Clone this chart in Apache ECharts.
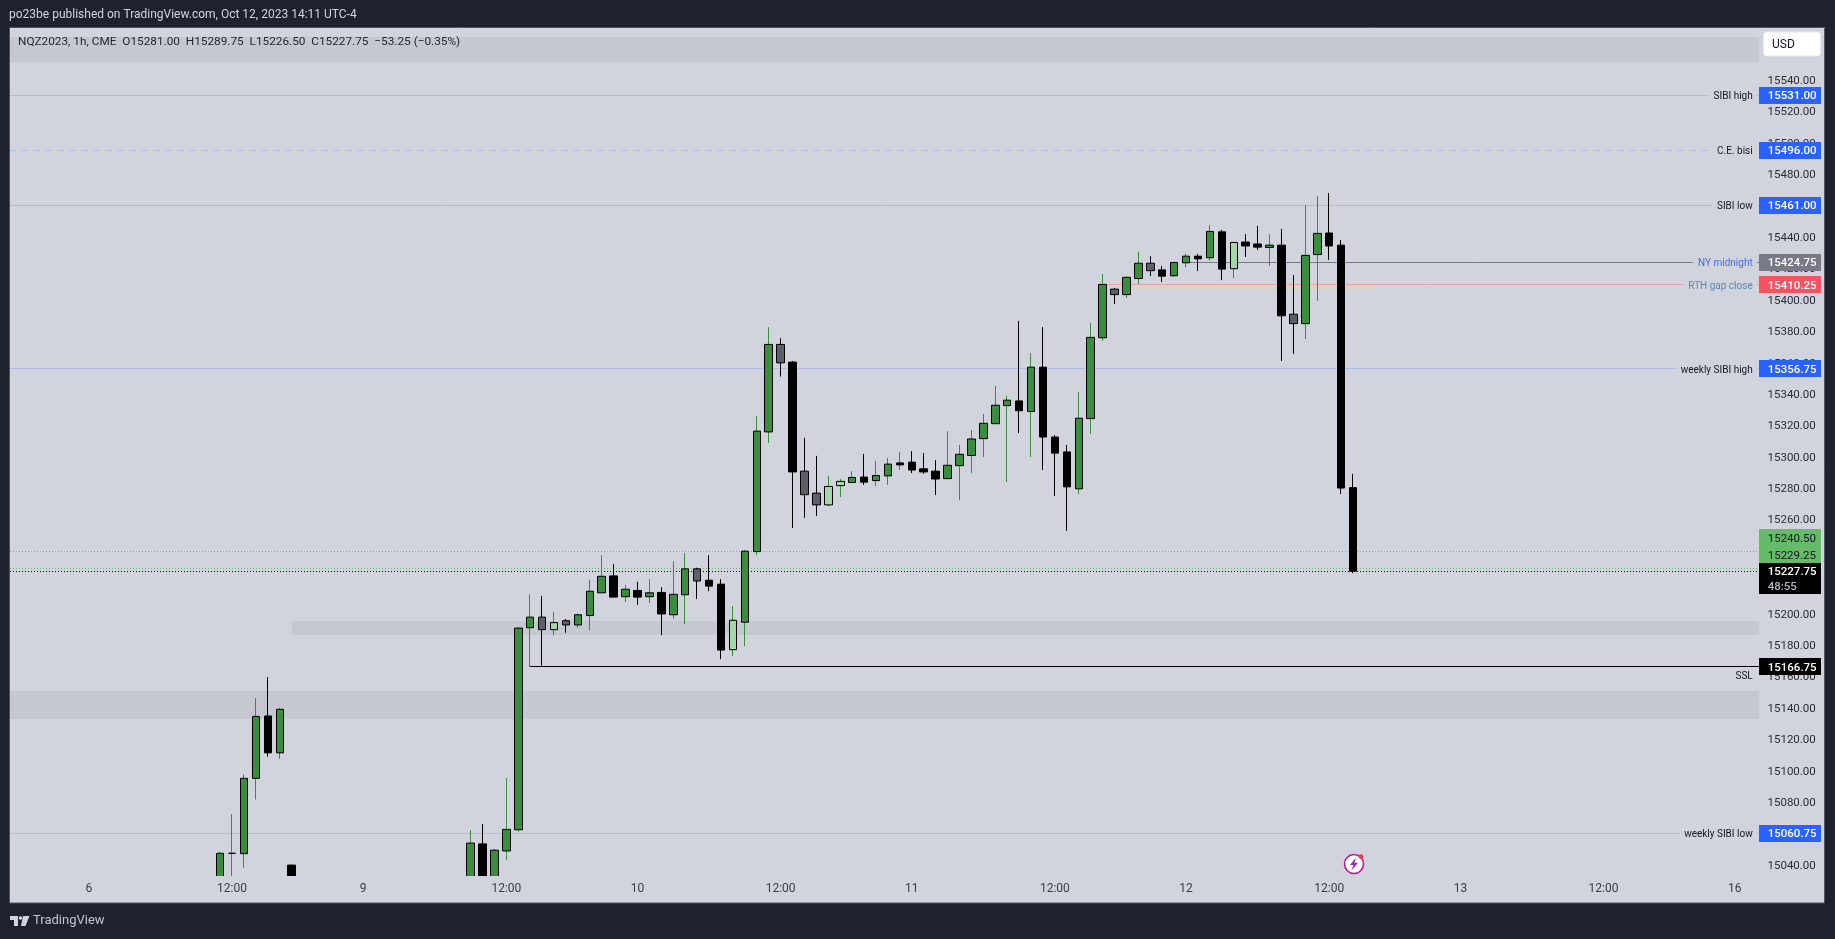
<!DOCTYPE html>
<html>
<head>
<meta charset="utf-8">
<style>html,body{margin:0;padding:0;background:#1e222d}#c{width:1835px;height:939px}</style>
<script src="https://cdn.jsdelivr.net/npm/echarts@6/dist/echarts.min.js"></script>
</head>
<body>
<div id="c"></div>
<script>
const barIndex = [11,12,13,14,15,16,17,32,33,34,35,36,37,38,39,40,41,42,43,44,45,46,47,48,49,50,51,52,53,54,55,56,57,58,59,60,61,62,63,64,65,66,67,68,69,70,71,72,73,74,75,76,77,78,79,80,81,82,83,84,85,86,87,88,89,90,91,92,93,94,95,96,97,98,99,100,101,102,103,104,105,106];
const opens = [15025,15048,15047.75,15095.75,15135.5,15112,15040.5,15025,15054,15025,15049.5,15063,15191.75,15198.5,15190.5,15196.25,15193.5,15199.5,15214,15224.75,15211.5,15215.5,15211.5,15214.25,15200,15212.75,15229.25,15222,15219.5,15177.75,15195.25,15240.25,15316.5,15372.25,15361,15291.5,15277.5,15270,15282.25,15284.25,15287.75,15285.5,15288.5,15296.75,15297.25,15293,15291.5,15286.75,15295,15301.5,15312.25,15321.75,15333.25,15336.25,15329.5,15357.75,15313.25,15303.75,15280.25,15325,15376.5,15407.5,15404,15414.25,15424,15419.75,15416,15424.25,15428.5,15427.5,15444,15420.5,15437.5,15436.25,15434,15435.5,15391.5,15385.5,15429.5,15443.25,15435.5,15281];
const closes = [15048,15048,15095.75,15135.25,15112,15139.75,15025,15054.5,15025,15050,15063.25,15191.5,15198.5,15190.5,15195,15193.5,15200,15215,15224.5,15211.25,15216.25,15211.25,15214,15200.5,15213,15229.25,15221.5,15218.25,15177.5,15196.5,15240.5,15317,15372.25,15360.5,15291,15276.5,15270,15281.75,15285,15287.5,15284.5,15288.75,15296,15295.5,15292.25,15291,15286.5,15295.25,15302.25,15312,15322,15333.5,15336.75,15330,15357.75,15313.25,15303,15281.5,15325.25,15376.75,15410.5,15404,15415,15424,15419.25,15415.75,15424.5,15428.5,15426.75,15444.25,15420.25,15437.25,15435,15434.25,15435.5,15390.5,15385.5,15429,15443,15435,15280.75,15227.75];
const lows = [15025,15025,15038.75,15082.25,15109.5,15108.25,15025,15025,15025,15025,15043.75,15061.75,15166.75,15167.5,15187,15188.5,15191.5,15190,15214,15211.25,15208,15206.25,15207.5,15187,15197.5,15194,15210,15215,15171.75,15173.75,15180,15238,15309.5,15351.75,15255.25,15261.75,15263,15269.25,15275,15284.25,15282.75,15282,15282.75,15292.25,15290.25,15289.75,15276.25,15286.75,15273,15290.25,15300.5,15321.75,15284.5,15315.75,15300.5,15292.25,15275.75,15253.5,15277,15315.25,15374.5,15398,15401.75,15410.75,15415.75,15412,15415.25,15421.5,15419,15425.5,15413.25,15414.5,15428,15432.5,15422.25,15361.75,15366.25,15375.75,15400,15426,15277,15226.5];
const highs = [15049,15073,15098.25,15147,15160.25,15140.75,15040.5,15062.75,15066.75,15050.75,15096,15192.25,15213,15212,15201.75,15197.25,15200.75,15222.25,15238,15232.25,15219,15221,15222.75,15217.5,15234.25,15239.25,15230,15238,15222.75,15205.5,15241.25,15326.75,15383.25,15376.25,15361.75,15312.75,15301.25,15288.5,15286.5,15291.5,15302.5,15298,15300,15303.75,15304.25,15303,15298.5,15317,15308.25,15317.75,15328,15345.75,15339.5,15387.25,15366.75,15383.25,15314.5,15308.25,15342,15386,15417,15408.25,15415.75,15431.25,15428.5,15422.25,15424.5,15430,15430,15448.25,15445.25,15437.25,15442.5,15447.75,15442.5,15445.75,15416.5,15461,15466.75,15468.75,15438.75,15289.75];
const barKinds = ("gkggkgk"+"gkggggslsg"+"ggkgkgkggs"+"kklgggskss"+"llgkggkkkk"+"ggggggkgkk"+"kgggsggskg"+"gkgklkkgks"+"ggkkk").split("");
const wickGreenBars = [12,68];

const yTicks = [15040,15060,15080,15100,15120,15140,15160,15180,15200,15220,15240,15260,15280,15300,15320,15340,15360,15380,15400,15420,15440,15460,15480,15500,15520,15540];
const xTickIndex = [0,12,23,35,46,58,69,81,92,104,115,127,138];
const xTickLabels = ["6","12:00","9","12:00","10","12:00","11","12:00","12","12:00","13","12:00","16"];

const levelPrices = [15531,15496,15461,15424.75,15410.25,15356.75,15166.75,15060.75];
const levelNames = ["SIBI high","C.E. bisi","SIBI low","NY midnight","RTH gap close","weekly SIBI high","SSL","weekly SIBI low"];
const levelStart = [null,null,null,92,85,null,37,null];
const levelKinds = ["blue","dash","blue","grey","red","blue","ssl","blue"];

const zoneLows = [15552.5,15187,15133.5,15407.5];
const zoneHighs = [15568,15196,15151.5,15409.5];
const zoneStart = [null,17,null,86];
const zoneEnd = [null,null,null,108];
const zoneKinds = ["band","band","band","sand"];

const dottedPrices = [15240.5,15229.25,15227.75];
const dottedKinds = ["green","green","black"];
const lastLabels = ["15240.50","15229.25","15227.75","48:55"];

const FONT = 'Roboto, "Open Sans", sans-serif';
const PANE = '#d1d4dc';
const kindFill = {g:'#388e3c',k:'#000000',s:'#5d606b',l:'#a5d6a7'};
const levelStyle = {
  blue:{line:'#b1bce0',box:'#2962ff',text:'#131722',dash:null,w:1},
  dash:{line:'#a9bbf0',box:'#2962ff',text:'#131722',dash:[6,6],w:1},
  grey:{line:'#787b86',box:'#787b86',text:'#3f6fe8',dash:null,w:1},
  red:{line:'#e4a3ab',box:'#f7525f',text:'#5a8ab5',dash:null,w:1},
  ssl:{line:'#000000',box:'#000000',text:'#131722',dash:null,w:1.2}
};
const zoneFill = {band:'#c5c8d0',sand:'#d8d5c4'};
const dottedFill = {green:'#66bb6a',black:'#000000'};

const X_MIN = -6.62, X_MAX = 140.04, Y_MIN = 15033.54, Y_MAX = 15573.88;
const BOX_L = 1759, BOX_R = 1821, LABEL_R = 1752.7;

const wickData = barIndex.map((x,i)=>{
  const col = (barKinds[i]==='g'||barKinds[i]==='l'||wickGreenBars.includes(x)) ? '#388e3c' : '#000000';
  return {value:[x,opens[i],closes[i],lows[i],highs[i]],
    itemStyle:{color:col,color0:col,borderColor:col,borderColor0:col,borderColorDoji:col}};
});
const bodyData = barIndex.map((x,i)=>{
  const col = kindFill[barKinds[i]];
  return {value:[x,opens[i],closes[i],Math.min(opens[i],closes[i]),Math.max(opens[i],closes[i])],
    itemStyle:{color:col,color0:col,borderColor:'#000',borderColor0:'#000',borderColorDoji:'#000'}};
});

function snap(y){return Math.round(y-0.5)+0.5;}

const chart = echarts.init(document.getElementById('c'),null,{renderer:'canvas'});
chart.setOption({
  animation:false,
  backgroundColor:'#1e222d',
  tooltip:{show:false},
  grid:{left:10,top:28,width:1749,height:848,containLabel:false},
  xAxis:{type:'value',z:10,min:X_MIN,max:X_MAX,splitLine:{show:false},axisLine:{show:false},axisTick:{show:false},
    axisLabel:{customValues:xTickIndex,margin:7,fontFamily:FONT,fontSize:12,color:'#3a3d46',
      formatter:v=>xTickLabels[xTickIndex.indexOf(v)]||''}},
  yAxis:{type:'value',position:'right',min:Y_MIN,max:Y_MAX,scale:true,splitLine:{show:false},axisLine:{show:false},axisTick:{show:false},
    axisLabel:{customValues:yTicks,margin:8.5,padding:[4,0,0,0],fontFamily:FONT,fontSize:11.5,color:'#2a2e39',
      formatter:v=>v.toFixed(2)}},
  series:[
    {type:'custom',name:'zones',z:1,silent:true,coordinateSystem:'cartesian2d',
     data:zoneLows.map((v,i)=>[i,v]),encode:{x:0,y:1},
     renderItem(p,api){
       const i=api.value(0);
       const y0=api.coord([0,zoneHighs[i]])[1], y1=api.coord([0,zoneLows[i]])[1];
       const x0=zoneStart[i]==null?p.coordSys.x:api.coord([zoneStart[i],0])[0];
       const x1=zoneEnd[i]==null?p.coordSys.x+p.coordSys.width:api.coord([zoneEnd[i],0])[0];
       return {type:'rect',shape:{x:x0,y:Math.round(y0),width:x1-x0,height:Math.round(y1)-Math.round(y0)},style:{fill:zoneFill[zoneKinds[i]]}};
     }},
    {type:'custom',name:'dotted',z:1,silent:true,coordinateSystem:'cartesian2d',
     data:dottedPrices.map((v,i)=>[i,v]),encode:{x:0,y:1},
     renderItem(p,api){
       const i=api.value(0);
       const y=snap(api.coord([0,dottedPrices[i]])[1]);
       return {type:'line',shape:{x1:p.coordSys.x,y1:y,x2:p.coordSys.x+p.coordSys.width,y2:y},
         style:{stroke:dottedFill[dottedKinds[i]],lineWidth:1,lineDash:[1,2]}};
     }},
    {type:'custom',name:'levelLines',z:1,silent:true,coordinateSystem:'cartesian2d',
     data:levelPrices.map((v,i)=>[i,v]),encode:{x:0,y:1},
     renderItem(p,api){
       const i=api.value(0), st=levelStyle[levelKinds[i]];
       const y=snap(api.coord([0,levelPrices[i]])[1]);
       const x0=levelStart[i]==null?p.coordSys.x:api.coord([levelStart[i],0])[0];
       return {type:'line',shape:{x1:x0,y1:y,x2:BOX_L,y2:y},style:{stroke:st.line,lineWidth:st.w,lineDash:st.dash}};
     }},
    {type:'candlestick',name:'wicks',z:2,silent:true,barWidth:1,data:wickData,itemStyle:{borderWidth:1}},
    {type:'candlestick',name:'bodies',z:3,silent:true,barWidth:8,data:bodyData,itemStyle:{borderWidth:1}},
    {type:'custom',name:'levelLabels',z:5,silent:true,coordinateSystem:'cartesian2d',
     data:levelPrices.map((v,i)=>[i,v]),encode:{x:0,y:1},
     renderItem(p,api){
       const i=api.value(0), k=levelKinds[i], st=levelStyle[k];
       const y=api.coord([0,levelPrices[i]])[1];
       const ssl=k==='ssl';
       return {type:'group',children:[
         {type:'text',x:ssl?LABEL_R:LABEL_R+4,y:ssl?y+9.5:y+1.5,style:{text:levelNames[i],align:'right',verticalAlign:'middle',
            font:'10px '+FONT,fill:st.text,backgroundColor:ssl?null:PANE,padding:ssl?0:[1,4,1,5]}},
         {type:'rect',shape:{x:BOX_L,y:Math.round(y-8.5),width:BOX_R-BOX_L,height:17},style:{fill:st.box}},
         {type:'text',x:1767.7,y:Math.round(y)+1.5,style:{text:levelPrices[i].toFixed(2),align:'left',verticalAlign:'middle',
            font:'500 11.5px '+FONT,fill:'#ffffff'}}
       ]};
     }},
    {type:'custom',name:'lastPrice',z:5,silent:true,coordinateSystem:'cartesian2d',
     data:[[0,dottedPrices[0]]],encode:{x:0,y:1},
     renderItem(p,api){
       const y0=api.coord([0,dottedPrices[0]])[1], y1=api.coord([0,dottedPrices[2]])[1];
       return {type:'group',children:[
         {type:'rect',shape:{x:BOX_L,y:Math.round(y0-22),width:BOX_R-BOX_L,height:34},style:{fill:'#66bb6a'}},
         {type:'text',x:1767.7,y:Math.round(y0-12.5),style:{text:lastLabels[0],align:'left',verticalAlign:'middle',font:'11.5px '+FONT,fill:'#131722'}},
         {type:'text',x:1767.7,y:Math.round(y0+4.5),style:{text:lastLabels[1],align:'left',verticalAlign:'middle',font:'11.5px '+FONT,fill:'#131722'}},
         {type:'rect',shape:{x:BOX_L,y:Math.round(y1-8),width:BOX_R-BOX_L,height:31},style:{fill:'#000000'}},
         {type:'text',x:1767.7,y:Math.round(y1)+1.5,style:{text:lastLabels[2],align:'left',verticalAlign:'middle',font:'500 11.5px '+FONT,fill:'#ffffff'}},
         {type:'text',x:1767.7,y:Math.round(y1+15.5),style:{text:lastLabels[3],align:'left',verticalAlign:'middle',font:'500 11.5px '+FONT,fill:'#b2b5be'}}
       ]};
     }}
  ],
  graphic:{elements:[
    {type:'rect',z:-10,silent:true,shape:{x:10,y:27,width:1815,height:876},style:{fill:PANE}},
    {type:'rect',z:4,silent:true,shape:{x:10,y:876,width:1749,height:27},style:{fill:PANE}},
    {type:'rect',z:6,silent:true,shape:{x:9.5,y:27.5,width:1815,height:875.5},style:{fill:'none',stroke:'#50535e',lineWidth:1}},
    {type:'text',z:20,silent:true,x:9,y:15,style:{text:'po23be published on TradingView.com, Oct 12, 2023 14:11 UTC-4',font:'12px '+FONT,fill:'#d1d4dc',verticalAlign:'middle'}},
    {type:'text',z:20,silent:true,x:18,y:42.5,style:{text:'NQZ2023, 1h, CME  O15281.00  H15289.75  L15226.50  C15227.75  −53.25 (−0.35%)',font:'11.8px '+FONT,fill:'#1f2430',verticalAlign:'middle'}},
    {type:'rect',z:20,silent:true,shape:{x:1763.5,y:32,width:57,height:24,r:3},style:{fill:'#ffffff',stroke:'#e6e8ef',lineWidth:1}},
    {type:'text',z:21,silent:true,x:1772,y:44.5,style:{text:'USD',font:'12px '+FONT,fill:'#131722',verticalAlign:'middle'}},
    {type:'polygon',z:20,silent:true,shape:{points:[[10,916],[18,916],[18,926],[14,926],[14,920],[10,920]]},style:{fill:'#d1d4dc'}},
    {type:'circle',z:20,silent:true,shape:{cx:20.5,cy:918,r:1.8},style:{fill:'#d1d4dc'}},
    {type:'polygon',z:20,silent:true,shape:{points:[[23,916],[29.5,916],[25.5,926],[21,926]]},style:{fill:'#d1d4dc'}},
    {type:'text',z:20,silent:true,x:33,y:921,style:{text:'TradingView',font:'13px '+FONT,fill:'#c3c6ce',verticalAlign:'middle'}},
    {type:'circle',z:20,silent:true,shape:{cx:1354,cy:864,r:9.5},style:{fill:'#ffffff',stroke:'#b5179e',lineWidth:1.6}},
    {type:'polygon',z:21,silent:true,shape:{points:[[1356,857.5],[1350,865],[1353.5,865],[1351.5,870.5],[1358,862.8],[1354.5,862.8]]},style:{fill:'#9c27b0'}},
    {type:'circle',z:21,silent:true,shape:{cx:1361,cy:856.5,r:2.3},style:{fill:'#f23645'}}
  ]}
});
</script>
</body>
</html>
